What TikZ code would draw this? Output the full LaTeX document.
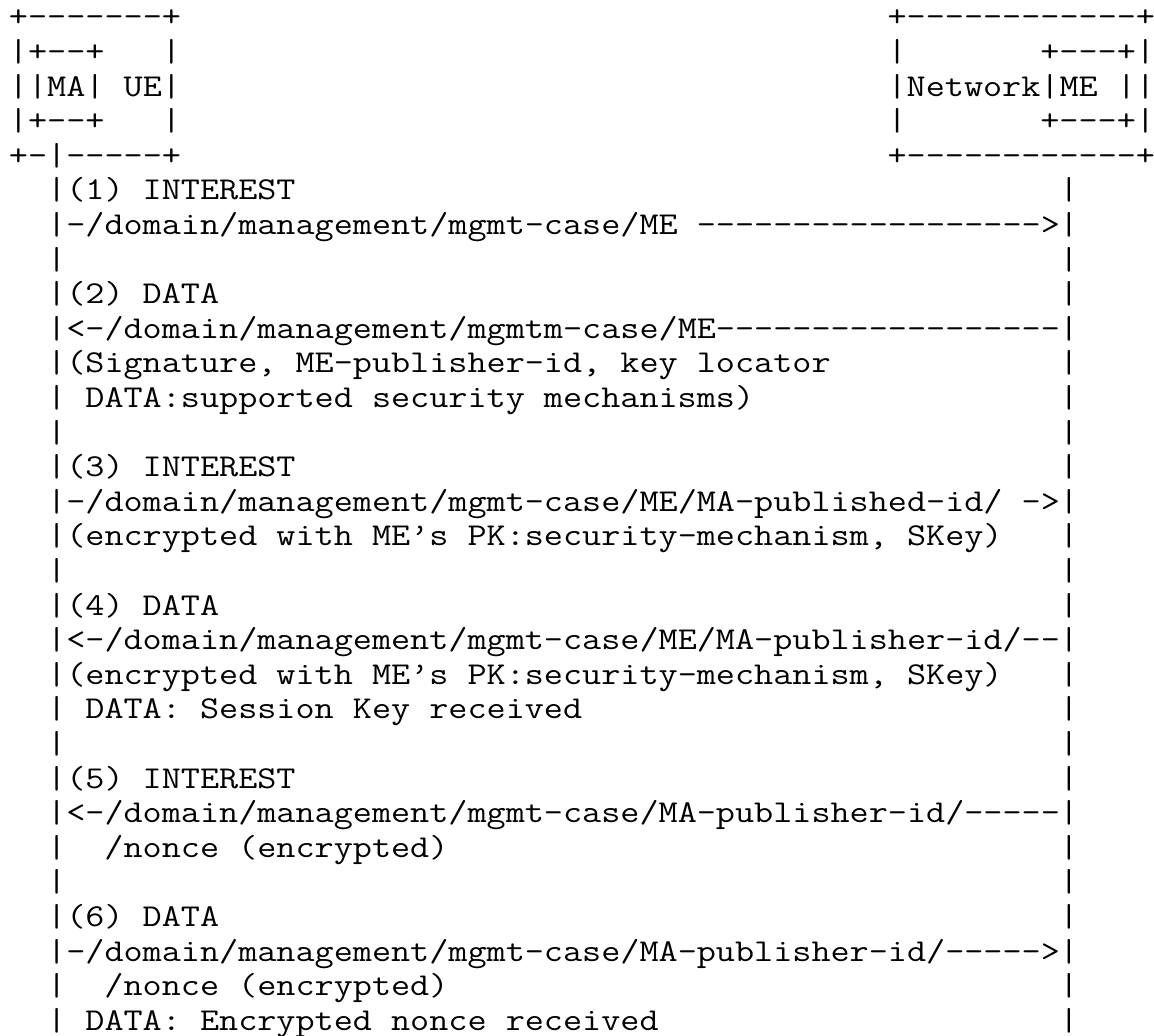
\documentclass[tikz,border=0pt]{standalone}
\usepackage{fontspec}
\setmonofont{Latin Modern Mono}[FakeStretch=1.1657]
\usepackage{tikz}
\usetikzlibrary{calc}

\tikzset{
	ascii/.style={anchor=base west, inner sep=0pt, outer sep=0pt, font=\ttfamily\fontsize{31.83}{34.6}\selectfont},
}

\begin{document}
\begin{tikzpicture}[x=19.1pt, y=-34.6pt]
	\useasboundingbox (-0.471,-0.780) rectangle (59.95,29.16);

	% UE box (with MA inside)
	\node[ascii] (ue1) at (0,0) {+-------+};
	\node[ascii] (ue2) at (0,1) {|+--+};
	\node[ascii] (ue2r) at (8,1) {|};
	\node[ascii] (ue3) at (0,2) {||MA| UE|};
	\node[ascii] (ue4) at (0,3) {|+--+};
	\node[ascii] (ue4r) at (8,3) {|};
	\node[ascii] (ue5) at (0,4) {+-|-----+};

	% Network box (with ME inside)
	\node[ascii] (nw1) at (46,0) {+------------+};
	\node[ascii] (nw2) at (46,1) {|};
	\node[ascii] (nw2r) at (54,1) {+---+|};
	\node[ascii] (nw3) at (46,2) {|Network|ME ||};
	\node[ascii] (nw4) at (46,3) {|};
	\node[ascii] (nw4r) at (54,3) {+---+|};
	\node[ascii] (nw5) at (46,4) {+------------+};

	% life lines
	\foreach \r in {5,...,29}
		{\node[ascii] (ma\r) at (2,\r) {|};
		 \node[ascii] (me\r) at (55,\r) {|};}

	% (1)
	\node[ascii] (m1a) at (3,5) {(1) INTEREST};
	\node[ascii] (m1b) at (3,6) {-/domain/management/mgmt-case/ME ------------------>};
	% (2)
	\node[ascii] (m2a) at (3,8) {(2) DATA};
	\node[ascii] (m2b) at (3,9) {<-/domain/management/mgmtm-case/ME------------------};
	\node[ascii] (m2c) at (3,10) {(Signature, ME-publisher-id, key locator};
	\node[ascii] (m2d) at (4,11) {DATA:supported security mechanisms)};
	% (3)
	\node[ascii] (m3a) at (3,13) {(3) INTEREST};
	\node[ascii] (m3b) at (3,14) {-/domain/management/mgmt-case/ME/MA-published-id/ ->};
	\node[ascii] (m3c) at (3,15) {(encrypted with ME’s PK:security-mechanism, SKey)};
	% (4)
	\node[ascii] (m4a) at (3,17) {(4) DATA};
	\node[ascii] (m4b) at (3,18) {<-/domain/management/mgmt-case/ME/MA-publisher-id/--};
	\node[ascii] (m4c) at (3,19) {(encrypted with ME’s PK:security-mechanism, SKey)};
	\node[ascii] (m4d) at (4,20) {DATA: Session Key received};
	% (5)
	\node[ascii] (m5a) at (3,22) {(5) INTEREST};
	\node[ascii] (m5b) at (3,23) {<-/domain/management/mgmt-case/MA-publisher-id/-----};
	\node[ascii] (m5c) at (5,24) {/nonce (encrypted)};
	% (6)
	\node[ascii] (m6a) at (3,26) {(6) DATA};
	\node[ascii] (m6b) at (3,27) {-/domain/management/mgmt-case/MA-publisher-id/----->};
	\node[ascii] (m6c) at (5,28) {/nonce (encrypted)};
	\node[ascii] (m6d) at (4,29) {DATA: Encrypted nonce received};

\end{tikzpicture}
\end{document}
